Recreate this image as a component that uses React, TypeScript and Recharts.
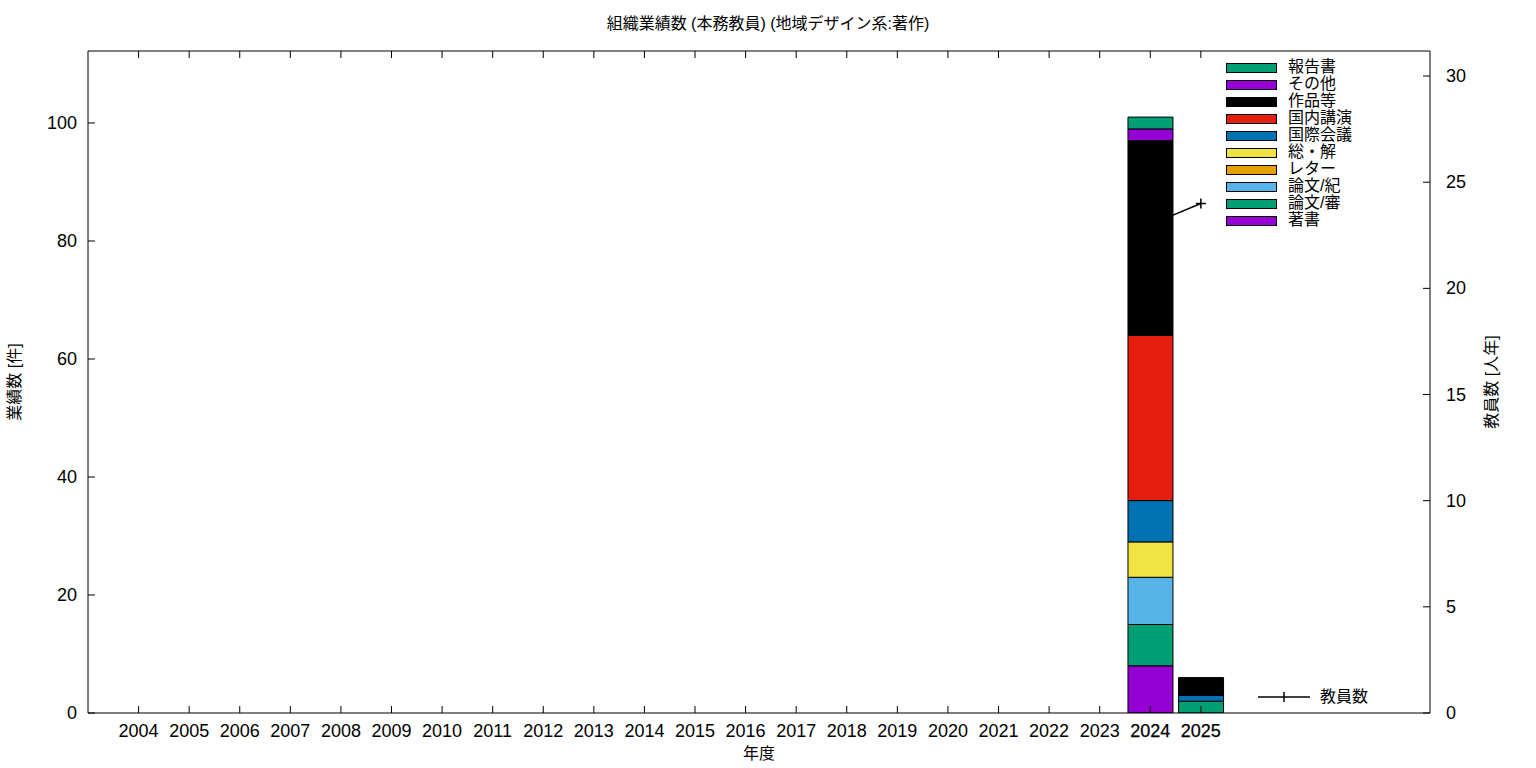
import React from "react"
import {
  Bar,
  ComposedChart,
  Line,
  XAxis,
  YAxis,
} from "recharts"

// 年度 2004..2025
const years = [
  2004, 2005, 2006, 2007, 2008, 2009, 2010, 2011, 2012, 2013, 2014,
  2015, 2016, 2017, 2018, 2019, 2020, 2021, 2022, 2023, 2024, 2025,
]

// 業績数 (件)
const chosho = [0, 0, 0, 0, 0, 0, 0, 0, 0, 0, 0, 0, 0, 0, 0, 0, 0, 0, 0, 0, 8, 0]
const ronbunShin = [0, 0, 0, 0, 0, 0, 0, 0, 0, 0, 0, 0, 0, 0, 0, 0, 0, 0, 0, 0, 7, 2]
const ronbunKi = [0, 0, 0, 0, 0, 0, 0, 0, 0, 0, 0, 0, 0, 0, 0, 0, 0, 0, 0, 0, 8, 0]
const letter = [0, 0, 0, 0, 0, 0, 0, 0, 0, 0, 0, 0, 0, 0, 0, 0, 0, 0, 0, 0, 0, 0]
const soukai = [0, 0, 0, 0, 0, 0, 0, 0, 0, 0, 0, 0, 0, 0, 0, 0, 0, 0, 0, 0, 6, 0]
const kokusai = [0, 0, 0, 0, 0, 0, 0, 0, 0, 0, 0, 0, 0, 0, 0, 0, 0, 0, 0, 0, 7, 1]
const kokunai = [0, 0, 0, 0, 0, 0, 0, 0, 0, 0, 0, 0, 0, 0, 0, 0, 0, 0, 0, 0, 28, 0]
const sakuhin = [0, 0, 0, 0, 0, 0, 0, 0, 0, 0, 0, 0, 0, 0, 0, 0, 0, 0, 0, 0, 33, 3]
const sonota = [0, 0, 0, 0, 0, 0, 0, 0, 0, 0, 0, 0, 0, 0, 0, 0, 0, 0, 0, 0, 2, 0]
const houkoku = [0, 0, 0, 0, 0, 0, 0, 0, 0, 0, 0, 0, 0, 0, 0, 0, 0, 0, 0, 0, 2, 0]

// 教員数 (人年)
const teachers: (number | null)[] = [
  null, null, null, null, null, null, null, null, null, null, null,
  null, null, null, null, null, null, null, null, null, 23, 24,
]

const leftTicks = [0, 20, 40, 60, 80, 100]
const rightTicks = [0, 5, 10, 15, 20, 25, 30]

// stacking order, bottom first
const series = [
  { key: "chosho", name: "著書", color: "#9400d3", values: chosho },
  { key: "ronbunShin", name: "論文/審", color: "#009e73", values: ronbunShin },
  { key: "ronbunKi", name: "論文/紀", color: "#56b4e9", values: ronbunKi },
  { key: "letter", name: "レター", color: "#e69f00", values: letter },
  { key: "soukai", name: "総・解", color: "#f0e442", values: soukai },
  { key: "kokusai", name: "国際会議", color: "#0072b2", values: kokusai },
  { key: "kokunai", name: "国内講演", color: "#e51e10", values: kokunai },
  { key: "sakuhin", name: "作品等", color: "#000000", values: sakuhin },
  { key: "sonota", name: "その他", color: "#9400d3", values: sonota },
  { key: "houkoku", name: "報告書", color: "#009e73", values: houkoku },
]

const data = years.map((year, i) => {
  const row: Record<string, number | null> = { idx: i, year, teachers: teachers[i] }
  series.forEach((s) => {
    row[s.key] = s.values[i]
  })
  return row
})

const FONT = '"Liberation Sans", "Noto Sans CJK JP", sans-serif'
const W = 1536
const H = 768
const TICK = 7

const BottomTick = (p: any) => {
  const yr = years[p.payload.value]
  const strong = yr >= 2024
  return (
    <g>
      <line x1={p.x} x2={p.x} y1={p.y} y2={p.y - TICK} stroke="#000" />
      <text
        x={p.x}
        y={p.y + 24}
        textAnchor="middle"
        fontSize={18}
        fontFamily={FONT}
        fill="#000"
        stroke={strong ? "#000" : "none"}
        strokeWidth={strong ? 0.25 : 0}
      >
        {yr}
      </text>
    </g>
  )
}

const TopTick = (p: any) => (
  <line x1={p.x} x2={p.x} y1={p.y} y2={p.y + TICK} stroke="#000" />
)

const LeftTick = (p: any) => (
  <g>
    <line x1={p.x} x2={p.x + TICK} y1={p.y} y2={p.y} stroke="#000" />
    <text x={p.x - 11} y={p.y + 6} textAnchor="end" fontSize={18} fontFamily={FONT} fill="#000">
      {p.payload.value}
    </text>
  </g>
)

const RightTick = (p: any) => (
  <g>
    <line x1={p.x} x2={p.x - TICK} y1={p.y} y2={p.y} stroke="#000" />
    <text x={p.x + 16} y={p.y + 6} textAnchor="start" fontSize={18} fontFamily={FONT} fill="#000">
      {p.payload.value}
    </text>
  </g>
)

const PlusDot = (p: any) => {
  if (p.value == null || p.cx == null || p.cy == null) return <g key={p.index} />
  return (
    <path
      key={p.index}
      d={`M${p.cx - 5},${p.cy}H${p.cx + 5}M${p.cx},${p.cy - 5}V${p.cy + 5}`}
      stroke="#000"
      strokeWidth={1.5}
    />
  )
}

export default function App() {
  const legendRows = [...series].reverse()
  return (
    <div
      style={{
        position: "absolute",
        left: 0,
        top: 0,
        width: W,
        height: H,
        background: "#fff",
        fontFamily: FONT,
        color: "#000",
      }}
    >
      <ComposedChart
        width={W}
        height={H}
        data={data}
        margin={{ top: 50, right: 46, bottom: 25, left: 28 }}
      >
        <XAxis
          xAxisId="bottom"
          dataKey="idx"
          type="number"
          domain={[-1, 25.53]}
          allowDataOverflow
          ticks={years.map((_, i) => i)}
          interval={0}
          height={30}
          tickSize={0}
          tickMargin={0}
          tick={<BottomTick />}
          axisLine={{ stroke: "#000" }}
          tickLine={false}
        />
        <XAxis
          xAxisId="top"
          orientation="top"
          dataKey="idx"
          type="number"
          domain={[-1, 25.53]}
          allowDataOverflow
          ticks={years.map((_, i) => i)}
          interval={0}
          height={1}
          tickSize={0}
          tickMargin={0}
          tick={<TopTick />}
          axisLine={{ stroke: "#000" }}
          tickLine={false}
        />
        <YAxis
          yAxisId="left"
          domain={[0, 112.2]}
          allowDataOverflow
          ticks={leftTicks}
          interval={0}
          width={60}
          tickSize={0}
          tickMargin={0}
          tick={<LeftTick />}
          axisLine={{ stroke: "#000" }}
          tickLine={false}
        />
        <YAxis
          yAxisId="right"
          orientation="right"
          domain={[0, 31.18]}
          allowDataOverflow
          ticks={rightTicks}
          interval={0}
          width={60}
          tickSize={0}
          tickMargin={0}
          tick={<RightTick />}
          axisLine={{ stroke: "#000" }}
          tickLine={false}
        />
        <Line
          xAxisId="bottom"
          yAxisId="right"
          dataKey="teachers"
          stroke="#000"
          strokeWidth={1.5}
          dot={PlusDot}
          activeDot={false}
          connectNulls={false}
          isAnimationActive={false}
        />
        {series.map((s) => (
          <Bar
            key={s.key}
            xAxisId="bottom"
            yAxisId="left"
            dataKey={s.key}
            name={s.name}
            stackId="works"
            fill={s.color}
            stroke="#000"
            strokeWidth={1}
            barSize={45}
            isAnimationActive={false}
          />
        ))}
      </ComposedChart>

      <div
        style={{
          position: "absolute",
          left: 0,
          width: W,
          top: 14,
          textAlign: "center",
          fontSize: 16,
          lineHeight: "20px",
        }}
      >
        組織業績数 (本務教員) (地域デザイン系:著作)
      </div>
      <div
        style={{
          position: "absolute",
          left: 659,
          width: 200,
          top: 744,
          textAlign: "center",
          fontSize: 16,
          lineHeight: "20px",
        }}
      >
        年度
      </div>
      <div
        style={{
          position: "absolute",
          left: 15 - 100,
          top: 382 - 10,
          width: 200,
          textAlign: "center",
          fontSize: 16,
          lineHeight: "20px",
          transform: "rotate(-90deg)",
        }}
      >
        業績数 [件]
      </div>
      <div
        style={{
          position: "absolute",
          left: 1492 - 100,
          top: 382 - 10,
          width: 200,
          textAlign: "center",
          fontSize: 16,
          lineHeight: "20px",
          transform: "rotate(-90deg)",
        }}
      >
        教員数 [人年]
      </div>

      {legendRows.map((s, i) => (
        <div
          key={s.key}
          style={{ position: "absolute", left: 1226, top: 67 + i * 17 - 8, height: 17 }}
        >
          <div
            style={{
              position: "absolute",
              left: 0,
              top: 4,
              width: 49,
              height: 8,
              background: s.color,
              border: "1px solid #000",
            }}
          />
          <div
            style={{
              position: "absolute",
              left: 62,
              top: -1,
              whiteSpace: "nowrap",
              fontSize: 16,
              lineHeight: "18px",
            }}
          >
            {s.name}
          </div>
        </div>
      ))}

      <svg style={{ position: "absolute", left: 1250, top: 688 }} width={70} height={20}>
        <line x1={8} x2={60} y1={9} y2={9} stroke="#000" strokeWidth={1.5} />
        <line x1={34} x2={34} y1={4} y2={14} stroke="#000" strokeWidth={1.5} />
      </svg>
      <div
        style={{
          position: "absolute",
          left: 1320,
          top: 687,
          fontSize: 16,
          lineHeight: "20px",
          whiteSpace: "nowrap",
        }}
      >
        教員数
      </div>
    </div>
  )
}
